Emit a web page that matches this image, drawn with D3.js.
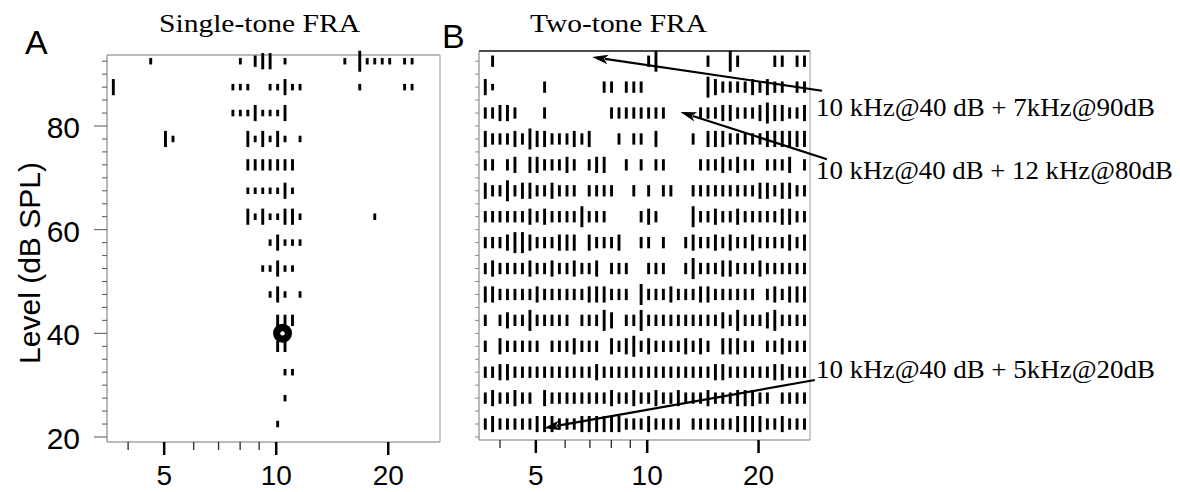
<!DOCTYPE html>
<html><head><meta charset="utf-8">
<script src="https://cdn.jsdelivr.net/npm/d3@7"></script>
<style>
body{margin:0;background:#fff;}
svg{display:block;}
</style></head><body>
<svg id="chart" width="1180" height="492"></svg>
<script>
// ---------------- DATA ----------------
// Stimulus levels (dB SPL), top row first
const levels = [90, 85, 80, 75, 70, 65, 60, 55, 50, 45, 40, 35, 30, 25, 20];
// Stimulus frequencies (kHz), one per raster column
const frequencies = [3.65, 3.82, 4.00, 4.19, 4.39, 4.60, 4.82, 5.04, 5.28, 5.53, 5.79, 6.07, 6.35, 6.66, 6.97,
  7.30, 7.65, 8.01, 8.39, 8.78, 9.20, 9.63, 10.09, 10.56, 11.06, 11.59, 12.14, 12.71, 13.31, 13.94,
  14.60, 15.29, 16.01, 16.77, 17.56, 18.40, 19.27, 20.18, 21.13, 22.13, 23.18, 24.27, 25.42, 26.62];
// Response size per cell (0 = none, 1..4 = spike count class), one string per level, groups of 4 columns
const singleToneRows = [
  "0000 0100 0000 0000 0102 3301 0000 0001 0411 1101 1000", // 90
  "3000 0000 0000 0000 1110 0113 1100 0000 0100 0001 1000", // 85
  "0000 0000 0000 0000 1113 1113 0000 0000 0000 0000 0000", // 80
  "0000 0003 1000 0000 0031 3131 0100 0000 0000 0000 0000", // 75
  "0000 0000 0000 0000 0022 2222 2000 0000 0000 0000 0000", // 70
  "0000 0000 0000 0000 0011 1113 1000 0000 0000 0000 0000", // 65
  "0000 0000 0000 0000 0031 3113 3100 0000 0001 0000 0000", // 60
  "0000 0000 0000 0000 0000 0131 1100 0000 0000 0000 0000", // 55
  "0000 0000 0000 0000 0000 1131 1000 0000 0000 0000 0000", // 50
  "0000 0000 0000 0000 0000 0131 0100 0000 0000 0000 0000", // 45
  "0000 0000 0000 0000 0000 0022 2000 0000 0000 0000 0000", // 40
  "0000 0000 0000 0000 0000 0022 0000 0000 0000 0000 0000", // 35
  "0000 0000 0000 0000 0000 0001 1000 0000 0000 0000 0000", // 30
  "0000 0000 0000 0000 0000 0001 0000 0000 0000 0000 0000", // 25
  "0000 0000 0000 0000 0000 0010 0000 0000 0000 0000 0000"  // 20
];
const twoToneRows = [
  "0200 0000 0000 0000 0000 0024 0000 0020 0420 0002 2022", // 90
  "3100 0000 2000 0000 2202 2200 0000 0043 2222 3232 2022", // 85
  "2233 2000 2000 0000 0222 2222 2000 0222 3322 2343 3223", // 80
  "3222 3243 3222 3230 0020 2203 0000 2033 3222 2233 3333", // 75
  "2202 3033 2223 2023 3002 0202 2000 0222 3232 2022 2302", // 70
  "3224 2332 2322 2022 2200 2020 2200 2222 2222 2332 3322", // 65
  "2222 2232 3222 2422 2000 0232 0000 4223 2232 2222 3322", // 60
  "2223 4432 2233 3032 2230 0220 2002 3223 2322 3222 2323", // 55
  "2322 2232 2322 3223 0222 0022 2002 4222 3322 2322 2222", // 50
  "3322 2223 2222 2233 3222 0422 2322 2332 2222 2023 2333", // 45
  "2023 2242 2222 0222 4302 2422 2222 2222 3242 2234 2222", // 40
  "2032 2222 0222 3222 0323 4232 2223 2320 3332 2022 3222", // 35
  "2233 2222 2222 2223 2222 2222 2222 2223 3222 2223 3222", // 30
  "2322 3220 3222 2222 2322 3223 2232 2232 2233 3220 2222", // 25
  "2322 2223 3322 2333 3332 2232 2220 2222 2233 3322 3222"  // 20
];
const xTicksMajor = [5, 10, 20];
const xTicksMinor = [4, 6, 7, 8, 9];
const yTickLabels = [20, 40, 60, 80];
const bestFrequencyMarker = { freq: 10.4, level: 40 };
const annotationTexts = ["10 kHz@40 dB + 7kHz@90dB", "10 kHz@40 dB + 12 kHz@80dB", "10 kHz@40 dB + 5kHz@20dB"];
const arrowTipFreq = [7.1, 12.3, 5.25];
const arrowTipLevel = [93.3, 82.7, 21.7];
const arrowTailFreq = [29.7, 30.6, 28.4];
const arrowTailLevel = [86.8, 73.6, 31.0];
const textFreq = [28.6, 28.6, 28.6];
const textLevel = [81.9, 69.8, 31.4];
const panelTitles = ["Single-tone FRA", "Two-tone FRA"];
const panelLetters = ["A", "B"];

// ---------------- LAYOUT ----------------
const serif = "'Liberation Serif','Times New Roman',serif";
const sans = "'Liberation Sans',Arial,Helvetica,sans-serif";
const svg = d3.select("#chart");
const y = d3.scaleLinear().domain([20, 80]).range([437, 126]);
const rowOffset = 2.5;                 // raster rows sit in the upper half of each level band
const hScale = d3.scaleLinear().domain([1, 4]).range([6.5, 21]);
const markW = 2.9;

const panels = [
  { rows: singleToneRows, box: { l: 107, r: 440, t: 55, b: 442 }, title: panelTitles[0], titleX: 159, titleW: 201,
    letter: panelLetters[0], letterX: 25, letterY: 54, topStroke: "#777", topW: 1 },
  { rows: twoToneRows, box: { l: 479, r: 810, t: 51, b: 440 }, title: panelTitles[1], titleX: 530, titleW: 177,
    letter: panelLetters[1], letterX: 442, letterY: 48, topStroke: "#111", topW: 1.6 }
];
panels.forEach(p => {
  p.x = d3.scaleLog().base(2).domain([3.51, 27.55]).range([p.box.l, p.box.r]);
});

function parseRows(rows) {
  const out = [];
  rows.forEach((s, ri) => {
    const cells = s.replace(/\s+/g, "");
    for (let c = 0; c < cells.length; c++) {
      const v = +cells[c];
      if (v > 0) out.push({ freq: frequencies[c], level: levels[ri], count: v });
    }
  });
  return out;
}

panels.forEach((p, pi) => {
  const g = svg.append("g");
  const b = p.box;
  // frame
  g.append("line").attr("x1", b.l).attr("x2", b.r).attr("y1", b.t).attr("y2", b.t)
    .attr("stroke", p.topStroke).attr("stroke-width", p.topW);
  g.append("line").attr("x1", b.l).attr("x2", b.r).attr("y1", b.b).attr("y2", b.b)
    .attr("stroke", "#777").attr("stroke-width", 1);
  g.append("line").attr("x1", b.l).attr("x2", b.l).attr("y1", b.t).attr("y2", b.b)
    .attr("stroke", "#777").attr("stroke-width", 1);
  g.append("line").attr("x1", b.r).attr("x2", b.r).attr("y1", b.t).attr("y2", b.b)
    .attr("stroke", "#999").attr("stroke-width", 1);

  // x ticks
  g.selectAll("line.xmaj").data(xTicksMajor).join("line").attr("class", "xmaj")
    .attr("x1", d => p.x(d)).attr("x2", d => p.x(d)).attr("y1", b.b).attr("y2", b.b + 13)
    .attr("stroke", "#000").attr("stroke-width", 2.5);
  g.selectAll("line.xmin").data(xTicksMinor).join("line").attr("class", "xmin")
    .attr("x1", d => p.x(d)).attr("x2", d => p.x(d)).attr("y1", b.b).attr("y2", b.b + 8)
    .attr("stroke", "#333").attr("stroke-width", 1.4);
  g.selectAll("text.xl").data(xTicksMajor).join("text").attr("class", "xl")
    .attr("x", d => p.x(d)).attr("y", 485).attr("text-anchor", "middle")
    .attr("font-family", sans).attr("font-size", 28).text(d => d);

  // y ticks
  const yt = d3.range(20, 93, 2.5);
  g.selectAll("line.yt").data(yt).join("line").attr("class", "yt")
    .attr("x1", d => b.l - (pi === 0 && d % 20 === 0 ? 13 : (pi === 0 ? 5 : 4))).attr("x2", b.l)
    .attr("y1", d => y(d)).attr("y2", d => y(d))
    .attr("stroke", pi === 0 ? "#555" : "#888").attr("stroke-width", 1);
  if (pi === 0) {
    g.selectAll("text.yl").data(yTickLabels).join("text").attr("class", "yl")
      .attr("x", 80).attr("y", d => y(d) + 12).attr("text-anchor", "end")
      .attr("font-family", sans).attr("font-size", 30).text(d => d);
    g.append("text").attr("transform", `translate(40,${263}) rotate(-90)`)
      .attr("text-anchor", "middle").attr("font-family", sans).attr("font-size", 30)
      .text("Level (dB SPL)");
  }

  // raster marks
  g.selectAll("rect.mk").data(parseRows(p.rows)).join("rect").attr("class", "mk")
    .attr("x", d => p.x(d.freq) - markW / 2)
    .attr("y", d => y(d.level + rowOffset) - hScale(d.count) / 2)
    .attr("width", markW).attr("height", d => hScale(d.count))
    .attr("fill", "#000");

  // titles and letters
  g.append("text").attr("x", p.titleX).attr("y", 32).attr("font-family", serif).attr("font-size", 26)
    .attr("textLength", p.titleW).attr("lengthAdjust", "spacingAndGlyphs").text(p.title);
  g.append("text").attr("x", p.letterX).attr("y", p.letterY).attr("font-family", sans).attr("font-size", 34)
    .text(p.letter);

  if (pi === 0) {
    g.append("circle").attr("cx", p.x(bestFrequencyMarker.freq)).attr("cy", y(bestFrequencyMarker.level))
      .attr("r", 9.5).attr("fill", "#000");
    g.append("circle").attr("cx", p.x(bestFrequencyMarker.freq)).attr("cy", y(bestFrequencyMarker.level))
      .attr("r", 2.2).attr("fill", "#fff");
  }
  if (pi === 1) {
    const ag = svg.append("g");
    annotationTexts.forEach((t, i) => {
      const tip = [p.x(arrowTipFreq[i]), y(arrowTipLevel[i])];
      const tail = [p.x(arrowTailFreq[i]), y(arrowTailLevel[i])];
      const dx = tip[0] - tail[0], dy = tip[1] - tail[1];
      const len = Math.hypot(dx, dy);
      const ux = dx / len, uy = dy / len, nx = -uy, ny = ux;
      const hl = 16, hw = 4.8;
      const base = [tip[0] - ux * hl, tip[1] - uy * hl];
      ag.append("line").attr("x1", tail[0]).attr("y1", tail[1]).attr("x2", base[0] + ux * 3).attr("y2", base[1] + uy * 3)
        .attr("stroke", "#000").attr("stroke-width", 2.2);
      ag.append("path")
        .attr("d", `M${tip[0]},${tip[1]}L${base[0] + nx * hw},${base[1] + ny * hw}L${base[0] + ux * 4},${base[1] + uy * 4}L${base[0] - nx * hw},${base[1] - ny * hw}Z`)
        .attr("fill", "#000");
      ag.append("text").attr("x", p.x(textFreq[i])).attr("y", y(textLevel[i]))
        .attr("font-family", serif).attr("font-size", 26)
        .attr("textLength", i === 1 ? 357 : 339).attr("lengthAdjust", "spacingAndGlyphs")
        .text(t);
    });
  }
});
</script>
</body></html>
